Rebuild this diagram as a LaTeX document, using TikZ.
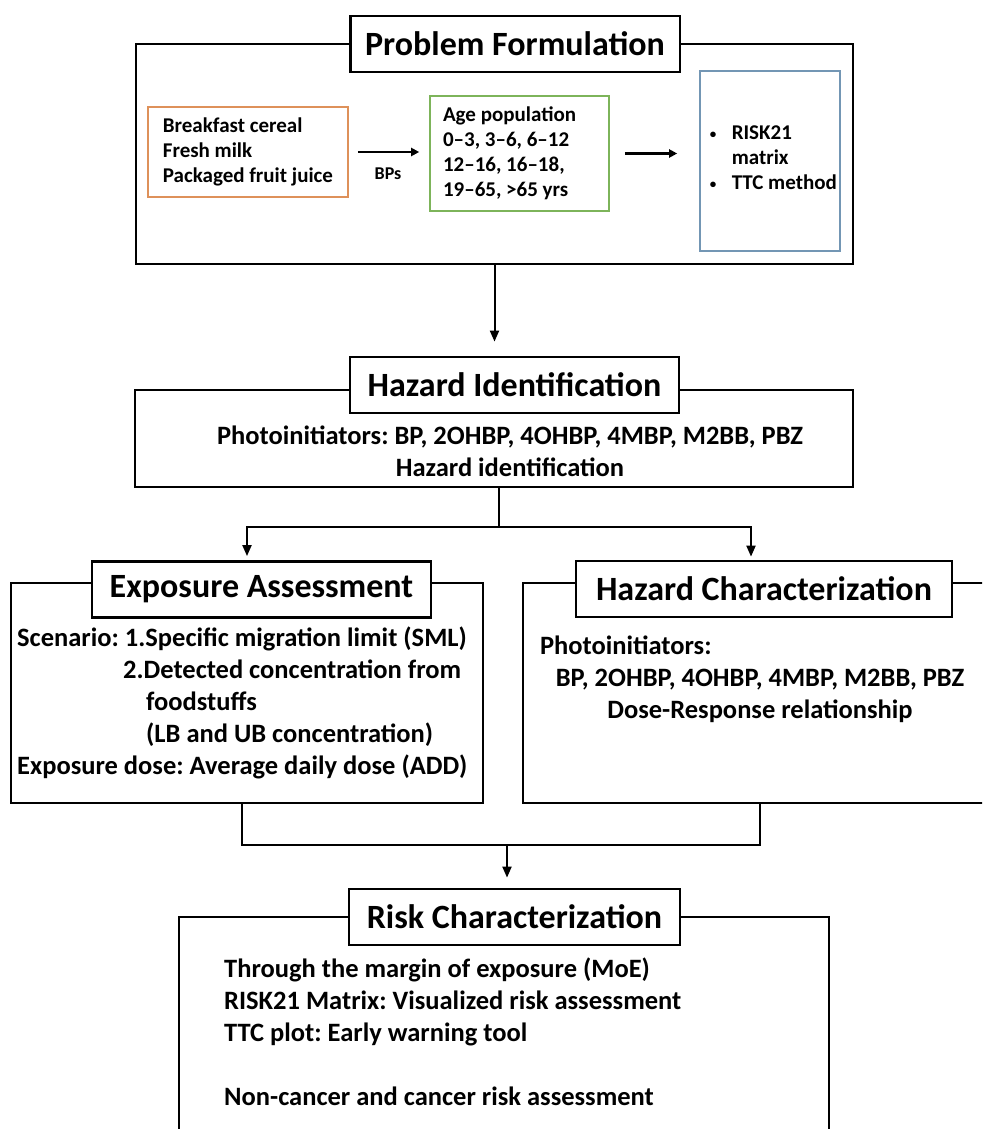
\documentclass[tikz,border=0pt]{standalone}
\usepackage{fontspec}
\setmainfont{Carlito}
\usetikzlibrary{arrows.meta, positioning, calc}
\definecolor{foodorange}{RGB}{222,145,90}
\definecolor{agegreen}{RGB}{125,180,90}
\definecolor{toolblue}{RGB}{115,150,180}
\newcommand{\toolbullet}{\makebox[22pt][l]{\raisebox{1pt}{\fontsize{13}{13}\selectfont\textbullet}}}
\tikzset{
    base/.style={align=flush center, font=\bfseries},
    stage/.style={draw, line width=2.8pt, rectangle, inner sep=0pt},
    heading/.style={base, draw, line width=2.8pt, fill=white, minimum height=56pt, inner xsep=15pt, font=\fontsize{34}{40}\selectfont\bfseries},
    bodytext/.style={base, inner sep=0pt, font=\fontsize{26.5}{32}\selectfont\bfseries},
    inbox/.style={base, draw, line width=1.6pt, rectangle, align=flush left, font=\fontsize{21}{25}\selectfont\bfseries},
    small/.style={base, inner sep=0pt, font=\fontsize{18}{22}\selectfont\bfseries},
    link/.style={line width=2pt},
    arrow/.style={-{Triangle[length=11pt, width=9pt]}, line width=2pt},
    flow/.style={-{Triangle[length=8pt, width=8pt]}, line width=2.6pt}
}

\begin{document}
\frenchspacing
\begin{tikzpicture}[x=1pt, y=-1pt]
    \useasboundingbox (0,0) rectangle (982,1129);
    \clip (0,0) rectangle (982,1129);

    % outer stages
    \node (pf) [stage, minimum width=717pt, minimum height=220pt] at (494.5,154) {};
    \node (hi) [stage, minimum width=718pt, minimum height=97pt] at (494,438.5) {};
    \node (ea) [stage, minimum width=472pt, minimum height=220pt] at (247,693) {};
    \node (hc) [stage, minimum width=482pt, minimum height=220pt] at (764,693) {};
    \node (rc) [stage, minimum width=650pt, minimum height=260pt] at (504,1047) {};

    % headings
    \node (pftitle) [heading, minimum width=328pt] at (515,44) {Problem Formulation};
    \node (hititle) [heading, minimum width=329pt] at (514.5,385) {Hazard Identification};
    \node (eatitle) [heading, minimum width=339pt] at (261.5,589.5) {Exposure Assessment};
    \node (hctitle) [heading, minimum width=376pt] at (764,589) {Hazard Characterization};
    \node (rctitle) [heading, minimum width=331pt] at (514.5,917) {Risk Characterization};

    % problem formulation content
    \node (food) [inbox, draw=foodorange, inner xsep=14pt, minimum width=200pt, minimum height=90pt] at (248,152)
        {Breakfast cereal\\ Fresh milk\\ Packaged fruit juice};
    \node (age) [inbox, draw=agegreen, inner xsep=13pt, text width=153pt, minimum height=115pt] at (519.5,153.5)
        {Age population\\ 0--3, 3--6, 6--12\\ 12--16, 16--18,\\ 19--65, >65 yrs};
    \node (tools) [inbox, draw=toolblue, minimum width=140pt, minimum height=180pt] at (770,161) {};
    \node (tooltext) [inbox, draw=none, inner sep=0pt, anchor=west] at (709,158)
        {\toolbullet RISK21\\ \hspace*{22pt}matrix\\ \toolbullet TTC method};
    \draw [flow, shorten <=9pt, shorten >=10pt] (food.east) -- (food.east -| age.west);
    \node (bps) [small] at (388,174) {BPs};
    \draw [flow, shorten <=15pt, shorten >=22pt] (age.east) -- (age.east -| tools.west);

    % stage texts
    \node (hitext) [bodytext] at (510,451)
        {Photoinitiators: BP, 2OHBP, 4OHBP, 4MBP, M2BB, PBZ\\ Hazard identification};
    \node (eatext) [bodytext, align=flush left, anchor=west] at (17,703)
        {Scenario: 1.Specific migration limit (SML)\\
         \hspace*{106pt}2.Detected concentration from\\
         \hspace*{129pt}foodstuffs\\
         \hspace*{129pt}(LB and UB concentration)\\
         Exposure dose: Average daily dose (ADD)};
    \node (hctext) [bodytext, text width=440pt] at (760,679)
        {\makebox[440pt][l]{Photoinitiators:}\\ BP, 2OHBP, 4OHBP, 4MBP, M2BB, PBZ\\ Dose-Response relationship};
    \node (rctext) [bodytext, align=flush left, anchor=west] at (224,1031.5)
        {Through the margin of exposure (MoE)\\
         RISK21 Matrix: Visualized risk assessment\\
         TTC plot: Early warning tool\\
         \mbox{}\\
         Non-cancer and cancer risk assessment};

    % connectors
    \coordinate (split) at (499,527);
    \coordinate (join) at (507,845);
    \draw [arrow, shorten >=14pt] (pf.south) -- (pf.south |- hititle.north);
    \draw [link] (hi.south -| split) -- (split);
    \draw [arrow, shorten >=4pt] (split) -| (ea.north |- eatitle.north);
    \draw [arrow, shorten >=3pt] (split) -| ([xshift=-13pt]hctitle.north);
    \draw [link] ([xshift=-5pt]ea.south) |- (join) -| ([xshift=-4pt]hc.south);
    \draw [arrow, shorten >=10pt] (join) -- (join |- rctitle.north);
\end{tikzpicture}
\end{document}
